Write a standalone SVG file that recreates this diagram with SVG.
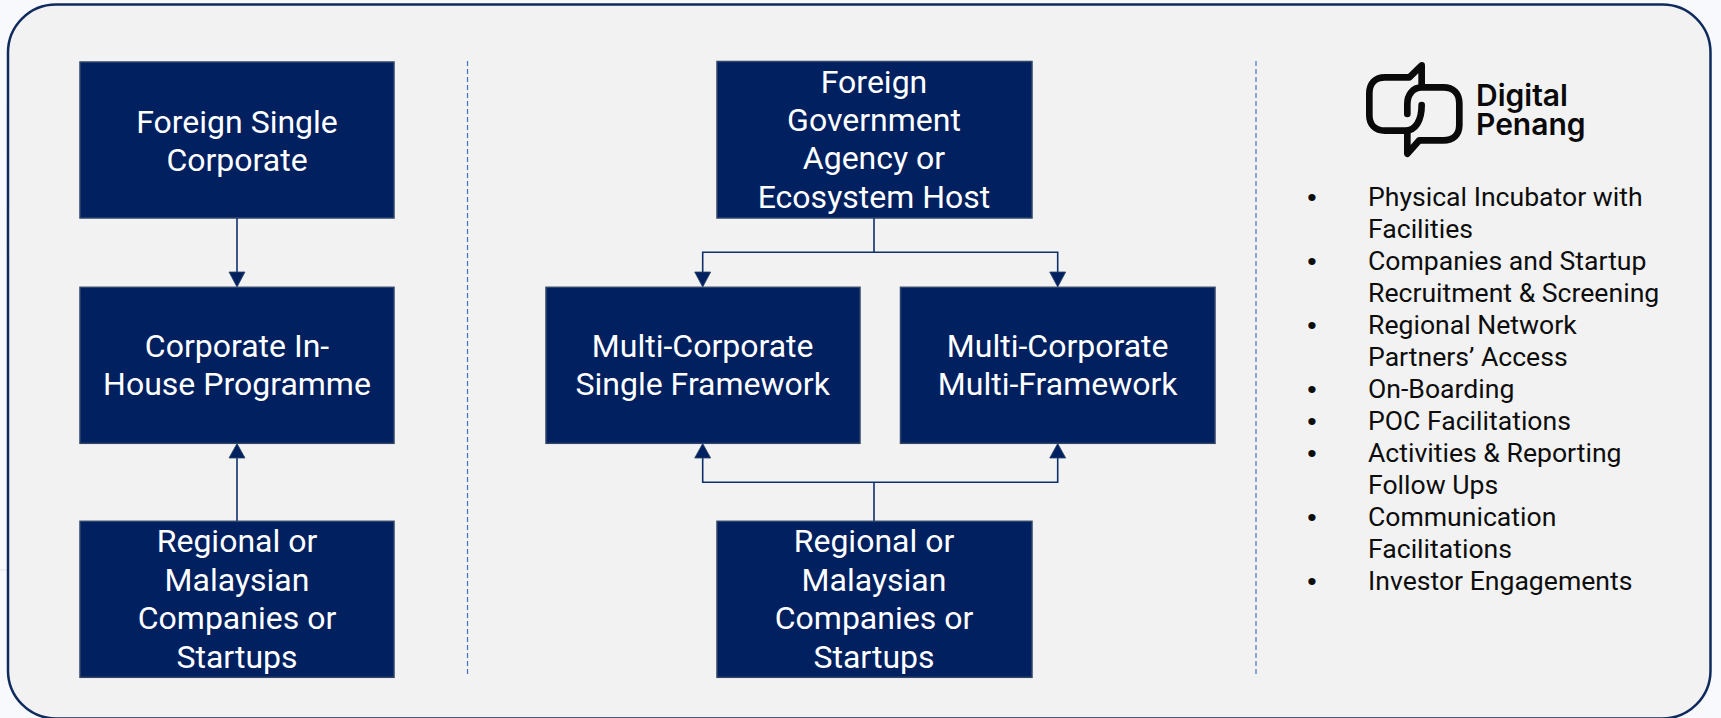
<svg xmlns="http://www.w3.org/2000/svg" width="1721" height="718" viewBox="0 0 1721 718">
<style>
.box{fill:#002060;stroke:#2f4467;stroke-width:1.5}
.t{font-family:Roboto,"Liberation Sans",sans-serif;font-size:32px;fill:#fff;text-anchor:middle}
.l{font-family:Roboto,"Liberation Sans",sans-serif;font-size:26.6px;fill:#0d0d0d}
.b{font-family:"Liberation Sans",Arial,sans-serif;font-size:26.67px;fill:#0d0d0d}
.c{fill:none;stroke:#0f2f6d;stroke-width:1.6}
.d{fill:none;stroke:#4472c4;stroke-width:1.2;stroke-dasharray:5 3}
.h{fill:#002060;stroke:#2f4467;stroke-width:.8}
</style>
<rect width="1721" height="718" fill="#f8f9fd"/>
<path d="M0 570H8" stroke="#e8ebf2" stroke-width="1.5"/>
<rect id="panel" x="8" y="4.500" width="1702.500" height="714" rx="48" ry="48" fill="#f2f2f2" stroke="#0f2a5c" stroke-width="2.500"/>
<g id="dividers">
<path class="d" d="M467.500 61V674"/>
<path class="d" d="M1256 61V674"/>
</g>
<g id="connectors">
<path class="c" d="M237 218V272"/>
<polygon class="h" points="229,272 245,272 237,287"/>
<path class="c" d="M237 521V458"/>
<polygon class="h" points="229,458 245,458 237,443.500"/>
<path class="c" d="M874 218V252.300M702.700 272V252.300H1057.700V272"/>
<polygon class="h" points="694.700,272 710.700,272 702.700,287"/>
<polygon class="h" points="1049.700,272 1065.700,272 1057.700,287"/>
<path class="c" d="M874 521V482.300M702.700 458V482.300H1057.700V458"/>
<polygon class="h" points="694.700,458 710.700,458 702.700,443.500"/>
<polygon class="h" points="1049.700,458 1065.700,458 1057.700,443.500"/>
</g>
<g id="n1"><rect class="box" x="80" y="62" width="314" height="156"/><text class="t" x="237" y="132.700">Foreign Single</text><text class="t" x="237" y="171.100">Corporate</text></g>
<g id="n2"><rect class="box" x="80" y="287.300" width="314" height="156"/><text class="t" x="237" y="356.500">Corporate In-</text><text class="t" x="237" y="394.900">House Programme</text></g>
<g id="n3"><rect class="box" x="80" y="521.300" width="314" height="156"/><text class="t" x="237" y="552.300">Regional or</text><text class="t" x="237" y="591">Malaysian</text><text class="t" x="237" y="629.400">Companies or</text><text class="t" x="237" y="667.900">Startups</text></g>
<g id="n4"><rect class="box" x="717" y="61.500" width="315" height="156.500"/><text class="t" x="874" y="92.500">Foreign</text><text class="t" x="874" y="130.900">Government</text><text class="t" x="874" y="169.300">Agency or</text><text class="t" x="874" y="207.700">Ecosystem Host</text></g>
<g id="n5"><rect class="box" x="546" y="287.300" width="314" height="156"/><text class="t" x="702.700" y="356.500">Multi-Corporate</text><text class="t" x="702.700" y="394.900">Single Framework</text></g>
<g id="n6"><rect class="box" x="900.500" y="287.300" width="314.500" height="156"/><text class="t" x="1057.700" y="356.500">Multi-Corporate</text><text class="t" x="1057.700" y="394.900">Multi-Framework</text></g>
<g id="n7"><rect class="box" x="717" y="521.300" width="315" height="156"/><text class="t" x="874" y="552.300">Regional or</text><text class="t" x="874" y="591">Malaysian</text><text class="t" x="874" y="629.400">Companies or</text><text class="t" x="874" y="667.900">Startups</text></g>
<g id="logo">
<g transform="translate(1340 40) scale(.3333)" fill="none" stroke="#0a0a0a" stroke-width="20" stroke-linecap="round" stroke-linejoin="round">
<path d="M245 135V76L208 112H135C106 112 88 130 88 160V225C88 254 106 272 135 272H195C228 272 245 240 245 195"/>
<path d="M245 142H310C340 142 358 160 358 190V255C358 284 340 301 310 301H238L202 341V275M202 222V192C202 165 218 142 245 142"/>
</g>
<text font-family="Inter,'Open Sans',sans-serif" font-size="30px" font-weight="600" fill="#0a0a0a"><tspan x="1476" y="105.500">Digital</tspan><tspan x="1476" y="135">Penang</tspan></text>
</g>
<g id="list">
<text class="b" x="1307.300" y="206">•</text><text class="l" x="1368" y="205.500">Physical Incubator with</text>
<text class="l" x="1368" y="237.500">Facilities</text>
<text class="b" x="1307.300" y="270">•</text><text class="l" x="1368" y="269.500">Companies and Startup</text>
<text class="l" x="1368" y="301.500">Recruitment &amp; Screening</text>
<text class="b" x="1307.300" y="334">•</text><text class="l" x="1368" y="333.500">Regional Network</text>
<text class="l" x="1368" y="365.500">Partners’ Access</text>
<text class="b" x="1307.300" y="398">•</text><text class="l" x="1368" y="397.500">On-Boarding</text>
<text class="b" x="1307.300" y="430">•</text><text class="l" x="1368" y="429.500">POC Facilitations</text>
<text class="b" x="1307.300" y="462">•</text><text class="l" x="1368" y="461.500">Activities &amp; Reporting</text>
<text class="l" x="1368" y="493.500">Follow Ups</text>
<text class="b" x="1307.300" y="526">•</text><text class="l" x="1368" y="525.500">Communication</text>
<text class="l" x="1368" y="557.500">Facilitations</text>
<text class="b" x="1307.300" y="590">•</text><text class="l" x="1368" y="589.500">Investor Engagements</text>
</g>
</svg>
